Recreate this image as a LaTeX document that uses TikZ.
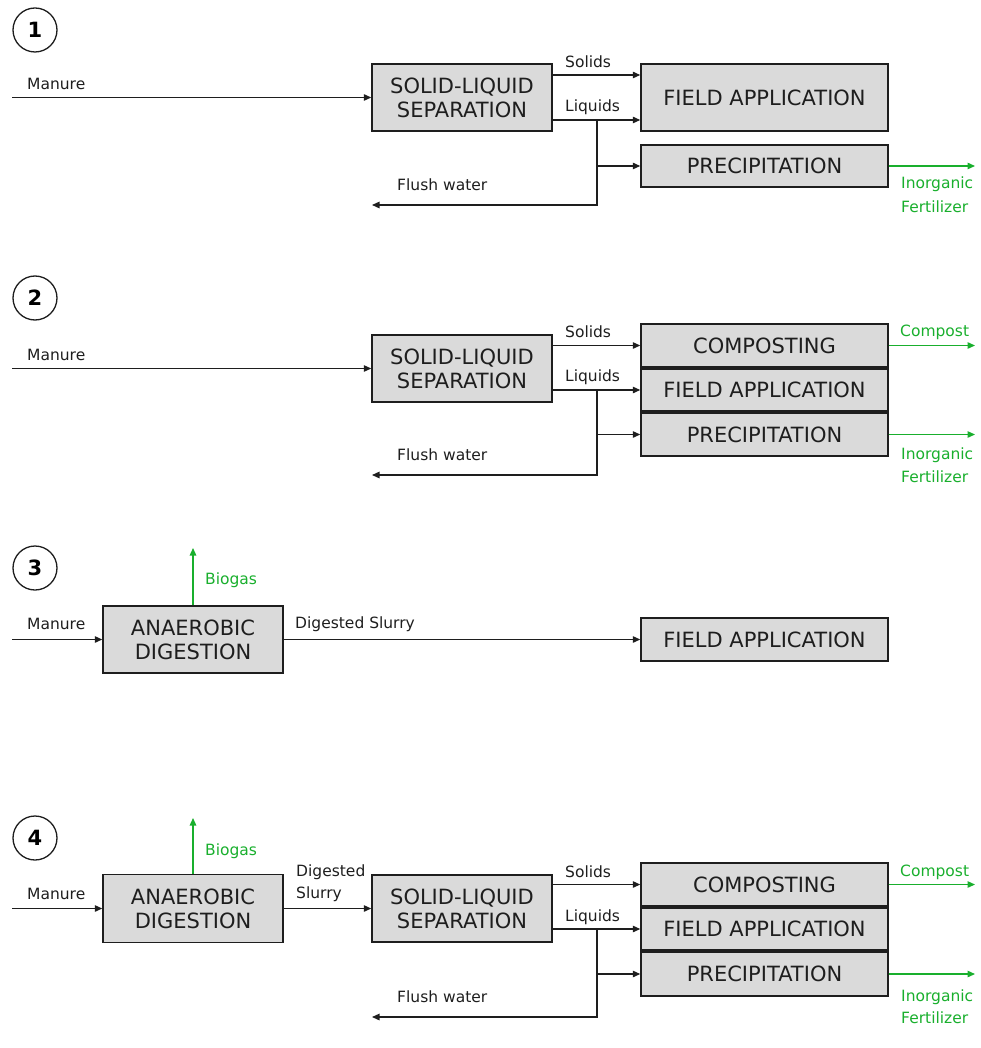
\documentclass[tikz,border=0pt]{standalone}
\usepackage{fontspec}
\setmainfont{DejaVu Sans}
\usetikzlibrary{arrows.meta}
\definecolor{grn}{RGB}{25,175,45}
\definecolor{boxfill}{RGB}{218,218,218}
\definecolor{ink}{RGB}{30,30,30}
\tikzset{
  proc/.style={draw=ink, line width=1.5pt, fill=boxfill, inner sep=0pt, align=center,
    text=ink, font=\fontsize{21}{24}\selectfont, minimum width=#1},
  proc/.default=180pt,
  lab/.style={anchor=west, inner sep=0pt, text=ink, font=\fontsize{15.5}{18}\selectfont},
  glab/.style={lab, text=grn},
  arr/.style={draw=ink, line width=1.3pt, -{Triangle[length=7.5pt,width=6.5pt]}},
  garr/.style={draw=grn, line width=1.3pt, -{Triangle[length=7.5pt,width=6.5pt]}},
  num/.style={circle, draw=ink, line width=1.3pt, minimum size=44pt, inner sep=0pt,
    font=\fontsize{21}{22}\selectfont\bfseries}
}
\begin{document}
\begin{tikzpicture}[x=1pt,y=-1pt]
\useasboundingbox (0,0) rectangle (980,1048);

% ---------------- Panel 1 ----------------
\node[num] (n1) at (35,30) {1};
\node[proc, minimum height=67pt] (sls1) at (462,97.5) {SOLID-LIQUID\\SEPARATION};
\node[proc=247pt, minimum height=67pt] (fa1) at (764.5,97.5) {FIELD APPLICATION};
\node[proc=247pt, minimum height=42pt] (pr1) at (764.5,166) {PRECIPITATION};
\coordinate (m1) at (12,97.5);
\coordinate (b1) at (597,120);
\coordinate (fw1) at (372,205);
\coordinate (g1) at (975,166);
\draw[arr] (m1) -- (sls1.west);
\draw[arr] ([yshift=22.5pt]sls1.east) -- ([yshift=22.5pt]fa1.west);
\draw[arr] ([yshift=-22.5pt]sls1.east) -- ([yshift=-22.5pt]fa1.west);
\draw[arr] (b1) |- (pr1.west);
\draw[arr] (b1) |- (fw1);
\draw[garr] (pr1.east) -- (g1);
\node[lab] (lm1) at (27,84) {Manure};
\node[lab] (ls1) at (565,62) {Solids};
\node[lab] (ll1) at (565,107) {Liquids};
\node[lab] (lf1) at (397,185) {Flush water};
\node[glab] (li1) at (901,184) {Inorganic};
\node[glab] (lz1) at (901,207) {Fertilizer};

% ---------------- Panel 2 ----------------
\node[num] (n2) at (35,298) {2};
\node[proc, minimum height=67pt] (sls2) at (462,368.5) {SOLID-LIQUID\\SEPARATION};
\node[proc=247pt, minimum height=43pt] (co2) at (764.5,345.5) {COMPOSTING};
\node[proc=247pt, minimum height=42pt] (fa2) at (764.5,390) {FIELD APPLICATION};
\node[proc=247pt, minimum height=43pt] (pr2) at (764.5,434.5) {PRECIPITATION};
\coordinate (m2) at (12,368.5);
\coordinate (b2) at (597,390);
\coordinate (fw2) at (372,475);
\coordinate (g2a) at (975,345.5);
\coordinate (g2b) at (975,434.5);
\draw[arr] (m2) -- (sls2.west);
\draw[arr] (co2.west -| sls2.east) -- (co2.west);
\draw[arr] (fa2.west -| sls2.east) -- (fa2.west);
\draw[arr] (b2) |- (pr2.west);
\draw[arr] (b2) |- (fw2);
\draw[garr] (co2.east) -- (g2a);
\draw[garr] (pr2.east) -- (g2b);
\node[lab] (lm2) at (27,355) {Manure};
\node[lab] (ls2) at (565,332) {Solids};
\node[lab] (ll2) at (565,377) {Liquids};
\node[lab] (lf2) at (397,455) {Flush water};
\node[glab] (lc2) at (900,332) {Compost};
\node[glab] (li2) at (901,455) {Inorganic};
\node[glab] (lz2) at (901,477) {Fertilizer};

% ---------------- Panel 3 ----------------
\node[num] (n3) at (35,568) {3};
\node[proc, minimum height=67pt] (ad3) at (193,639.5) {ANAEROBIC\\DIGESTION};
\node[proc=247pt, minimum height=43pt] (fa3) at (764.5,639.5) {FIELD APPLICATION};
\coordinate (m3) at (12,639.5);
\coordinate (bg3) at (193,548);
\draw[arr] (m3) -- (ad3.west);
\draw[arr] (ad3.east) -- (fa3.west);
\draw[garr] (ad3.north) -- (bg3);
\node[lab] (lm3) at (27,624) {Manure};
\node[lab] (ld3) at (295,624) {Digested Slurry};
\node[glab] (lb3) at (205,580) {Biogas};

% ---------------- Panel 4 ----------------
\node[num] (n4) at (35,838) {4};
\node[proc, minimum height=68pt] (ad4) at (193,908.5) {ANAEROBIC\\DIGESTION};
\node[proc, minimum height=67pt] (sls4) at (462,908.5) {SOLID-LIQUID\\SEPARATION};
\node[proc=247pt, minimum height=43pt] (co4) at (764.5,884.5) {COMPOSTING};
\node[proc=247pt, minimum height=42pt] (fa4) at (764.5,929) {FIELD APPLICATION};
\node[proc=247pt, minimum height=44pt] (pr4) at (764.5,974) {PRECIPITATION};
\coordinate (m4) at (12,908.5);
\coordinate (bg4) at (193,818);
\coordinate (b4) at (597,929);
\coordinate (fw4) at (372,1017);
\coordinate (g4a) at (975,884.5);
\coordinate (g4b) at (975,974);
\draw[arr] (m4) -- (ad4.west);
\draw[arr] (ad4.east) -- (sls4.west);
\draw[garr] (ad4.north) -- (bg4);
\draw[arr] (co4.west -| sls4.east) -- (co4.west);
\draw[arr] (fa4.west -| sls4.east) -- (fa4.west);
\draw[arr] (b4) |- (pr4.west);
\draw[arr] (b4) |- (fw4);
\draw[garr] (co4.east) -- (g4a);
\draw[garr] (pr4.east) -- (g4b);
\node[lab] (lm4) at (27,894) {Manure};
\node[lab] (ld4a) at (296,872) {Digested};
\node[lab] (ld4b) at (296,894) {Slurry};
\node[glab] (lb4) at (205,851) {Biogas};
\node[lab] (ls4) at (565,872) {Solids};
\node[lab] (ll4) at (565,917) {Liquids};
\node[lab] (lf4) at (397,997) {Flush water};
\node[glab] (lc4) at (900,872) {Compost};
\node[glab] (li4) at (901,997) {Inorganic};
\node[glab] (lz4) at (901,1018) {Fertilizer};
\end{tikzpicture}
\end{document}
